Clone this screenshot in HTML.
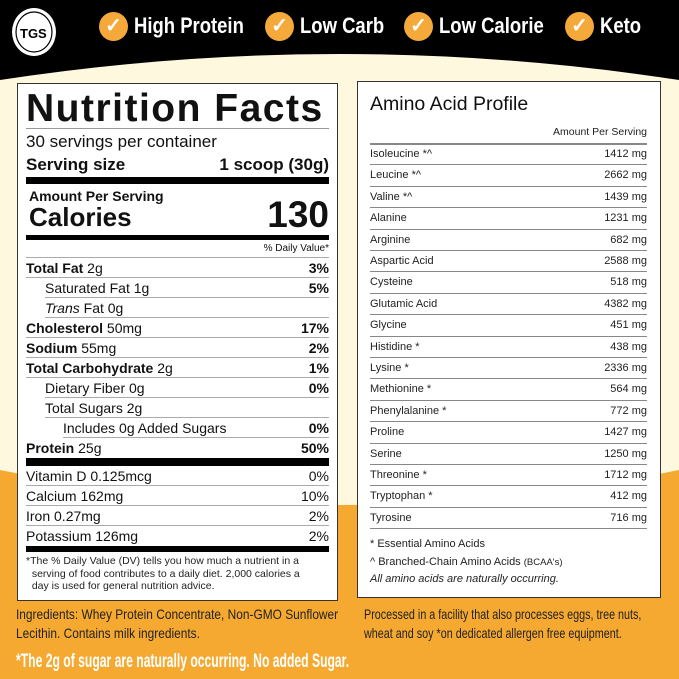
<!DOCTYPE html>
<html><head><meta charset="utf-8"><style>
*{margin:0;padding:0;box-sizing:border-box}
body{width:679px;height:679px;position:relative;overflow:hidden;background:#fdf8de;font-family:"Liberation Sans",Arial,sans-serif;color:#111}
.a{position:absolute;white-space:nowrap}
.box{position:absolute;background:#fff;border:1px solid #333}
.row{position:absolute;left:8px;right:8px;border-bottom:1px solid #aaa;font-size:14px;height:20px;line-height:20px}
.row .r{position:absolute;right:0;top:0}
.bar{position:absolute;left:8px;right:8px;background:#000}
.ar{position:absolute;left:12px;right:13px;border-bottom:1.5px solid #888;font-size:11px;height:21.4px;line-height:20px;color:#222}
.ar .r{position:absolute;right:0;top:0}
.chk{position:absolute;top:12px;width:29px;height:29px;border-radius:50%;background:#f5a93a;color:#fff;font-size:20px;text-align:center;line-height:29px;font-weight:bold}
.bt{position:absolute;top:13px;font-size:22px;font-weight:bold;color:#fff;transform:scaleX(.84);transform-origin:left}
.n{transform-origin:left top}
</style></head><body>
<svg class="a" style="left:0;top:0" width="679" height="679">
<path d="M0 0H679V80Q340 28 0 80Z" fill="#000"/>
<path d="M0 470Q340 540 679 470V679H0Z" fill="#f5a930"/>
<ellipse cx="34" cy="32" rx="22" ry="24" fill="#fff"/>
<ellipse cx="34" cy="32" rx="18" ry="20" fill="none" stroke="#000" stroke-width="1.2"/>
<text x="20" y="38" font-family="Liberation Sans" font-weight="bold" font-size="13" fill="#000">TGS</text>
</svg>
<div class="chk" style="left:99px">✓</div><div class="bt" style="left:134px">High Protein</div>
<div class="chk" style="left:265px">✓</div><div class="bt" style="left:300px">Low Carb</div>
<div class="chk" style="left:404px">✓</div><div class="bt" style="left:439px">Low Calorie</div>
<div class="chk" style="left:565px">✓</div><div class="bt" style="left:600px">Keto</div>

<div class="box" style="left:17px;top:83px;width:321px;height:518px">
<div class="a" style="left:8px;top:3px;font-size:39px;font-weight:900;letter-spacing:1.5px">Nutrition Facts</div>
<div class="bar" style="top:44px;height:1px;background:#999"></div>
<div class="a" style="left:8px;top:48px;font-size:17px">30 servings per container</div>
<div class="a" style="left:8px;top:71px;font-size:17px;font-weight:bold">Serving size</div>
<div class="a" style="right:8px;top:71px;font-size:17px;font-weight:bold">1 scoop (30g)</div>
<div class="bar" style="top:93px;height:7px"></div>
<div class="a" style="left:11px;top:104px;font-size:14px;font-weight:bold">Amount Per Serving</div>
<div class="a" style="left:11px;top:118px;font-size:26px;font-weight:bold">Calories</div>
<div class="a" style="right:8px;top:110px;font-size:37px;font-weight:bold">130</div>
<div class="bar" style="top:151px;height:5px"></div>
<div class="a" style="right:8px;top:159px;font-size:10px">% Daily Value*</div>
<div class="bar" style="top:173px;height:1px;background:#aaa"></div>
<div class="row" style="top:174px"><b>Total Fat</b> 2g<b class="r">3%</b></div>
<div class="row" style="top:194px;left:27px">Saturated Fat 1g<b class="r">5%</b></div>
<div class="row" style="top:214px;left:27px"><i>Trans</i> Fat 0g</div>
<div class="row" style="top:234px"><b>Cholesterol</b> 50mg<b class="r">17%</b></div>
<div class="row" style="top:254px"><b>Sodium</b> 55mg<b class="r">2%</b></div>
<div class="row" style="top:274px"><b>Total Carbohydrate</b> 2g<b class="r">1%</b></div>
<div class="row" style="top:294px;left:27px">Dietary Fiber 0g<b class="r">0%</b></div>
<div class="row" style="top:314px;left:27px">Total Sugars 2g</div>
<div class="row" style="top:334px;left:45px">Includes 0g Added Sugars<b class="r">0%</b></div>
<div class="row" style="top:354px;border:0"><b>Protein</b> 25g<b class="r">50%</b></div>
<div class="bar" style="top:374px;height:8px"></div>
<div class="row" style="top:382px">Vitamin D 0.125mcg<span class="r">0%</span></div>
<div class="row" style="top:402px">Calcium 162mg<span class="r">10%</span></div>
<div class="row" style="top:422px">Iron 0.27mg<span class="r">2%</span></div>
<div class="row" style="top:442px;border:0">Potassium 126mg<span class="r">2%</span></div>
<div class="bar" style="top:462px;height:6px"></div>
<div class="a" style="left:8px;top:471px;font-size:10.5px;line-height:12.5px;color:#222;white-space:normal;width:300px">*The % Daily Value (DV) tells you how much a nutrient in a<br>&nbsp;&nbsp;serving of food contributes to a daily diet. 2,000 calories a<br>&nbsp;&nbsp;day is used for general nutrition advice.</div>
</div>

<div class="box" style="left:357px;top:81px;width:304px;height:517px">
<div class="a" style="left:12px;top:11px;font-size:19.5px">Amino Acid Profile</div>
<div class="a" style="right:13px;top:44px;font-size:10.5px;color:#222">Amount Per Serving</div>
<div class="bar" style="left:12px;right:13px;top:61px;height:1.5px;background:#888"></div>
<div class="ar" style="top:62px">Isoleucine *^<span class="r">1412 mg</span></div>
<div class="ar" style="top:83.4px">Leucine *^<span class="r">2662 mg</span></div>
<div class="ar" style="top:104.8px">Valine *^<span class="r">1439 mg</span></div>
<div class="ar" style="top:126.2px">Alanine<span class="r">1231 mg</span></div>
<div class="ar" style="top:147.6px">Arginine<span class="r">682 mg</span></div>
<div class="ar" style="top:169px">Aspartic Acid<span class="r">2588 mg</span></div>
<div class="ar" style="top:190.4px">Cysteine<span class="r">518 mg</span></div>
<div class="ar" style="top:211.8px">Glutamic Acid<span class="r">4382 mg</span></div>
<div class="ar" style="top:233.2px">Glycine<span class="r">451 mg</span></div>
<div class="ar" style="top:254.6px">Histidine *<span class="r">438 mg</span></div>
<div class="ar" style="top:276px">Lysine *<span class="r">2336 mg</span></div>
<div class="ar" style="top:297.4px">Methionine *<span class="r">564 mg</span></div>
<div class="ar" style="top:318.8px">Phenylalanine *<span class="r">772 mg</span></div>
<div class="ar" style="top:340.2px">Proline<span class="r">1427 mg</span></div>
<div class="ar" style="top:361.6px">Serine<span class="r">1250 mg</span></div>
<div class="ar" style="top:383px">Threonine *<span class="r">1712 mg</span></div>
<div class="ar" style="top:404.4px">Tryptophan *<span class="r">412 mg</span></div>
<div class="ar" style="top:425.8px">Tyrosine<span class="r">716 mg</span></div>
<div class="a" style="left:12px;top:456px;font-size:11px;color:#222">* Essential Amino Acids</div>
<div class="a" style="left:12px;top:474px;font-size:11px;color:#222">^ Branched-Chain Amino Acids <span style="font-size:9.5px">(BCAA's)</span></div>
<div class="a" style="left:12px;top:491px;font-size:11px;color:#222;font-style:italic">All amino acids are naturally occurring.</div>
</div>

<div class="a n" style="left:16px;top:605px;font-size:14px;line-height:19px;color:#222;transform:scaleX(.85)">Ingredients: Whey Protein Concentrate, Non-GMO Sunflower<br>Lecithin. Contains milk ingredients.</div>
<div class="a n" style="left:364px;top:605px;font-size:14px;line-height:19px;color:#222;transform:scaleX(.77)">Processed in a facility that also processes eggs, tree nuts,<br>wheat and soy *on dedicated allergen free equipment.</div>
<div class="a n" style="left:16px;top:651px;font-size:19px;font-weight:bold;color:#fff;transform:scaleX(.64)">*The 2g of sugar are naturally occurring. No added Sugar.</div>
</body></html>
